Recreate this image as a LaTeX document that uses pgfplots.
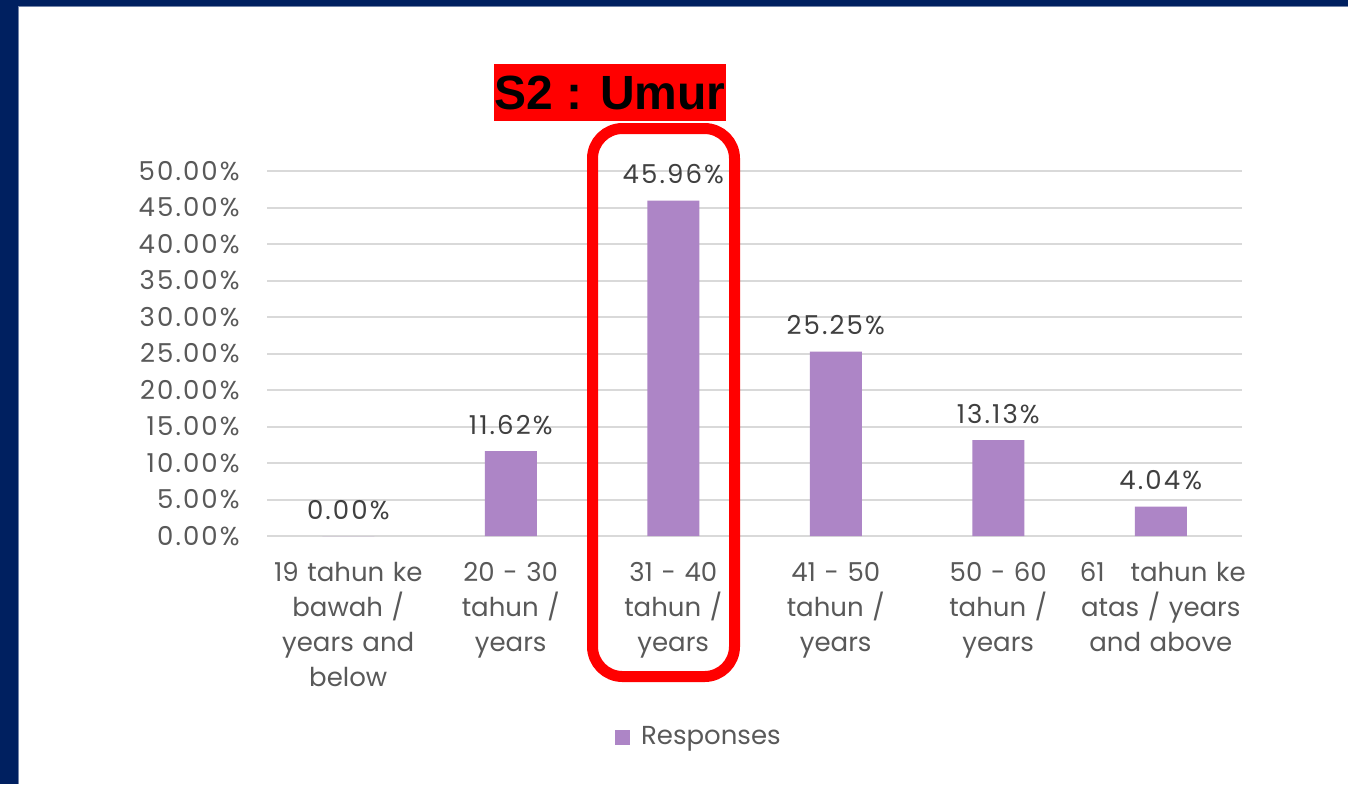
\documentclass[border=0pt]{standalone}
\usepackage{fontspec}
\setmainfont{Poppins}
\newfontfamily\numfont{Poppins}[LetterSpace=8]
\newfontfamily\titlefont{Liberation Sans}
\usepackage{pgfplots}
\pgfplotsset{compat=1.18}
\pgfkeys{/pgf/number format/assume math mode=true}
\definecolor{navy}{HTML}{002060}
\definecolor{barc}{HTML}{AD85C6}
\definecolor{txt}{HTML}{595959}
\definecolor{lbl}{HTML}{404040}
\definecolor{gridc}{HTML}{D9D9D9}
\newcommand{\lblfont}{\fontsize{13}{17.5}\selectfont}
\begin{document}
\begin{tikzpicture}
\useasboundingbox (0,0) rectangle (674pt,-392pt);
\fill[navy] (0,0) rectangle (674pt,-392pt);
\fill[white] (9pt,-3pt) rectangle (674pt,-392pt);
\draw[navy!55!white, line width=0.6pt] (9.3pt,-392pt) -- (9.3pt,-3.3pt) -- (674pt,-3.3pt);
\begin{axis}[
  at={(133.5pt,-268pt)}, anchor=south west,
  scale only axis, width=487.5pt, height=182.5pt,
  ybar, bar width=26pt,
  xmin=-0.5, xmax=5.5, ymin=0, ymax=50,
  ytick={0,5,...,50},
  yticklabel={\pgfmathprintnumber[fixed,fixed zerofill,precision=2]{\tick}\%},
  yticklabel style={font=\numfont\lblfont, text=txt, inner sep=0pt, xshift=-13.5pt},
  xtick={0,...,5},
  xticklabels={{19 tahun ke\\bawah /\\years and\\below},{20 - 30\\tahun /\\years},{31 - 40\\tahun /\\years},{41 - 50\\tahun /\\years},{50 - 60\\tahun /\\years},{\mbox{61\ \ \ tahun ke}\\atas / years\\and above}},
  xticklabel style={font=\lblfont, text=txt, text width=81pt, align=center, inner sep=0pt, anchor=north, yshift=-13pt},
  ymajorgrids, grid style={gridc, line width=1pt},
  axis line style={draw=none},
  major tick length=0pt,
  legend style={at={(0.444,-0.551)}, anchor=center, draw=none, fill=none, font=\lblfont, text=txt},
  legend image code/.code={\fill[barc] (0pt,-3.75pt) rectangle (7.5pt,3.75pt); \path (11pt,0pt);},
]
\addplot[fill=barc, draw=none,
  nodes near coords={\pgfmathprintnumber[fixed,fixed zerofill,precision=2]{\pgfplotspointmeta}\%},
  nodes near coords style={anchor=base, yshift=8.5pt, font=\numfont\lblfont, text=lbl}]
  coordinates {(0,0) (1,11.62) (2,45.96) (3,25.25) (4,13.13) (5,4.04)};
\addlegendentry{Responses}
\end{axis}
\draw[red, line width=5.5pt, rounded corners=15pt] (296.25pt,-64.25pt) rectangle (367.25pt,-338.25pt);
\node[fill=red, inner sep=0pt, minimum width=113pt, minimum height=28.5pt, font=\titlefont\bfseries\fontsize{24}{24}\selectfont, text=black] at (305pt,-46.25pt) {S2 : Umur};
\end{tikzpicture}
\end{document}
